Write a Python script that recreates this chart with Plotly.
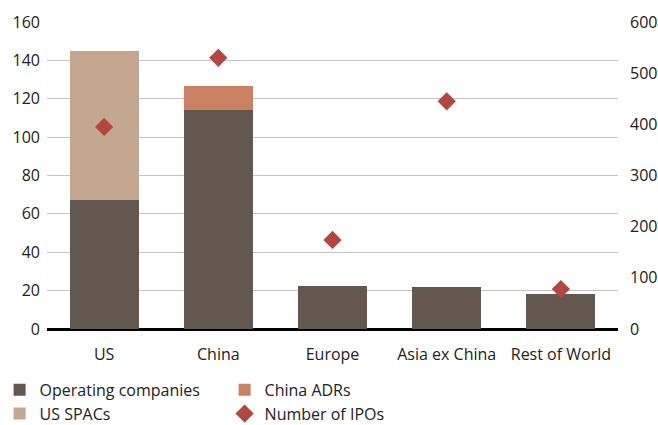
import plotly.graph_objects as go

regions = ["US", "China", "Europe", "Asia ex China", "Rest of World"]
operating = [67.3, 114.2, 22.4, 21.9, 18.3]
us_spacs = [77.7, 0, 0, 0, 0]
china_adrs = [0, 12.5, 0, 0, 0]
num_ipos = [395, 530, 174, 445, 78]

FONT = "Open Sans"
TXT = "#222222"

fig = go.Figure()
fig.add_trace(go.Bar(x=regions, y=operating, name="Operating companies",
                     marker=dict(color="#625850", line=dict(width=0)), legendrank=1))
fig.add_trace(go.Bar(x=regions, y=us_spacs, name="US SPACs",
                     marker=dict(color="#c4a790", line=dict(width=0)), legendrank=3))
fig.add_trace(go.Bar(x=regions, y=china_adrs, name="China ADRs",
                     marker=dict(color="#cc8062", line=dict(width=0)), legendrank=2))
fig.add_trace(go.Scatter(x=regions, y=num_ipos, name="Number of IPOs", yaxis="y2",
                         mode="markers",
                         marker=dict(symbol="diamond", size=14, color="#b5453f"),
                         legendrank=4))

fig.update_layout(
    width=658, height=425,
    margin=dict(l=47, r=40, t=22, b=96, autoexpand=False),
    barmode="stack", bargap=0.396,
    plot_bgcolor="white", paper_bgcolor="white",
    font=dict(family=FONT, size=16, color=TXT),
    xaxis=dict(showgrid=False, ticks="", tickfont=dict(size=16),
               showline=False, zeroline=False, ticklabelstandoff=14),
    yaxis=dict(range=[0, 160], dtick=20, showgrid=True, gridcolor="#c4c4c4",
               gridwidth=1.3, zeroline=True, zerolinecolor="black", zerolinewidth=2.5,
               ticks="", tickfont=dict(size=16), ticklabelstandoff=6),
    yaxis2=dict(range=[0, 600], dtick=100, overlaying="y", side="right",
                showgrid=False, zeroline=False, ticks="", tickfont=dict(size=16),
                ticklabelstandoff=11),
    legend=dict(orientation="h", x=-0.083, xanchor="left", y=-0.143, yanchor="top",
                entrywidth=180, entrywidthmode="pixels",
                font=dict(size=16, color=TXT), traceorder="normal",
                itemwidth=30, tracegroupgap=0),
    showlegend=True,
)

fig.write_html("out.html")
